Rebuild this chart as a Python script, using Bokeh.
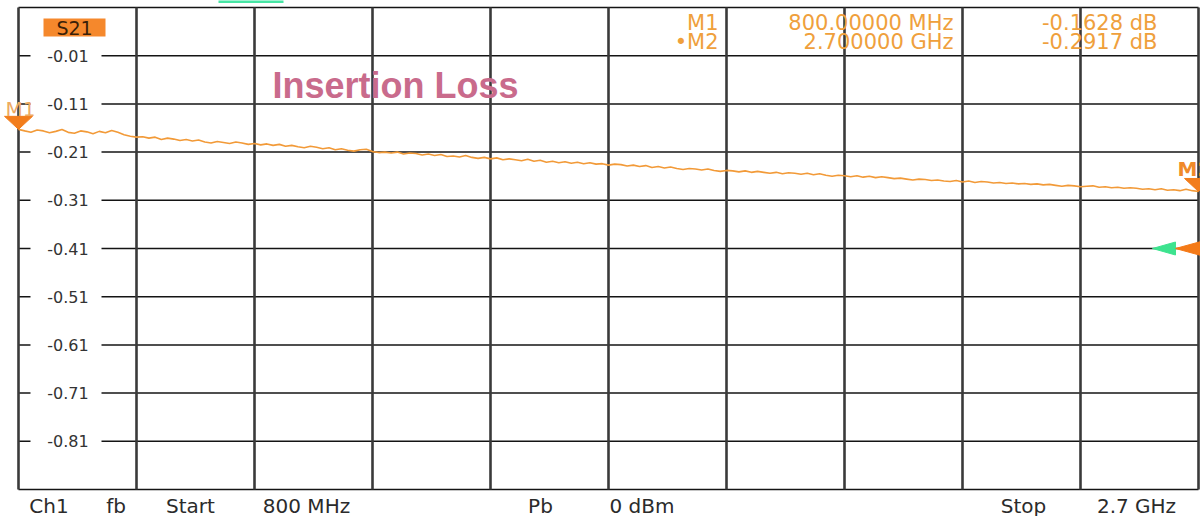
from bokeh.plotting import figure
from bokeh.models import Range1d
from bokeh.core.properties import value
from bokeh.embed import file_html
from bokeh.resources import INLINE

# ---------------- data ----------------
start_mhz = 800
stop_mhz = 2700
freq_mhz = list(range(800, 2701, 10))
s21_db = [
    -0.1628, -0.166, -0.169, -0.164, -0.166, -0.170, -0.167, -0.163, -0.169, -0.171,
    -0.166, -0.168, -0.172, -0.167, -0.170, -0.165, -0.169, -0.174, -0.177, -0.179,
    -0.178, -0.181, -0.179, -0.184, -0.181, -0.183, -0.186, -0.184, -0.187, -0.185,
    -0.189, -0.191, -0.188, -0.190, -0.192, -0.189, -0.191, -0.194, -0.192, -0.195,
    -0.193, -0.196, -0.194, -0.198, -0.196, -0.199, -0.201, -0.198, -0.200, -0.203,
    -0.201, -0.205, -0.203, -0.206, -0.208, -0.205, -0.204, -0.209, -0.211, -0.210,
    -0.212, -0.210, -0.214, -0.212, -0.213, -0.216, -0.214, -0.217, -0.215, -0.219,
    -0.218, -0.220, -0.217, -0.221, -0.223, -0.221, -0.224, -0.222, -0.226, -0.224,
    -0.226, -0.228, -0.225, -0.229, -0.227, -0.231, -0.229, -0.232, -0.230, -0.233,
    -0.231, -0.234, -0.232, -0.235, -0.234, -0.237, -0.235, -0.236, -0.239, -0.237,
    -0.240, -0.238, -0.242, -0.240, -0.243, -0.241, -0.244, -0.246, -0.244, -0.245,
    -0.247, -0.245, -0.248, -0.250, -0.248, -0.249, -0.251, -0.249, -0.252, -0.250,
    -0.252, -0.254, -0.252, -0.255, -0.253, -0.254, -0.256, -0.254, -0.257, -0.255,
    -0.258, -0.260, -0.258, -0.259, -0.261, -0.259, -0.262, -0.260, -0.263, -0.261,
    -0.263, -0.265, -0.264, -0.266, -0.268, -0.266, -0.267, -0.269, -0.268, -0.270,
    -0.271, -0.269, -0.272, -0.270, -0.273, -0.271, -0.272, -0.274, -0.273, -0.275,
    -0.274, -0.276, -0.275, -0.277, -0.276, -0.278, -0.277, -0.279, -0.281, -0.279,
    -0.280, -0.282, -0.281, -0.280, -0.283, -0.282, -0.284, -0.283, -0.285, -0.284,
    -0.285, -0.287, -0.286, -0.288, -0.286, -0.289, -0.288, -0.290, -0.287, -0.290,
    -0.2917,
]
grid_freqs = [800, 990, 1180, 1370, 1560, 1750, 1940, 2130, 2320, 2510, 2700]
grid_db = [0.09, -0.01, -0.11, -0.21, -0.31, -0.41, -0.51, -0.61, -0.71, -0.81, -0.91]
tick_db = [-0.01, -0.11, -0.21, -0.31, -0.41, -0.51, -0.61, -0.71, -0.81]
tick_labels = ["-0.01", "-0.11", "-0.21", "-0.31", "-0.41", "-0.51", "-0.61", "-0.71", "-0.81"]
marker_names = ["M1", "M2"]
marker_freq = [800, 2700]
marker_db = [-0.1628, -0.2917]
readout_names = ["M1", "\u2022M2"]
readout_freq = ["800.00000 MHz", "2.700000 GHz"]
readout_vals = ["-0.1628 dB", "-0.2917 dB"]
ref_level_db = -0.41
trace_name = "S21"
title_text = "Insertion Loss"
footer_texts = ["Ch1", "fb", "Start", "800 MHz", "Pb", "0 dBm", "Stop", "2.7 GHz"]

# ---------------- layout ----------------
W, H = 1200, 516
PX_MHZ = 1180.0 / (stop_mhz - start_mhz)
PX_DB = 482.0
x0 = start_mhz - 18 / PX_MHZ
x1 = x0 + W / PX_MHZ
y1 = grid_db[0] + 7 / PX_DB
y0 = y1 - H / PX_DB


def rx(px):
    # picture pixel x -> MHz
    return x0 + px / PX_MHZ


def ry(py):
    # picture pixel y (from top) -> dB
    return y1 - py / PX_DB


p = figure(width=W, height=H, x_range=Range1d(x0, x1), y_range=Range1d(y0, y1),
           output_backend="svg", toolbar_location=None, min_border=0,
           x_axis_location=None, y_axis_location=None, title=None)
p.grid.visible = False
p.outline_line_color = None
p.background_fill_color = "white"
p.border_fill_color = "white"

SANS = value("DejaVu Sans")

# small tab at top edge
p.quad(left=[rx(218)], right=[rx(283)], top=[ry(-2)], bottom=[ry(2.5)],
       fill_color="#47E6A5", line_color=None)

# grid
p.segment(x0=[start_mhz] * len(grid_db), y0=grid_db, x1=[stop_mhz] * len(grid_db), y1=grid_db,
          line_color="#141414", line_width=1.5)
p.segment(x0=grid_freqs, y0=[grid_db[-1]] * len(grid_freqs), x1=grid_freqs, y1=[grid_db[0]] * len(grid_freqs),
          line_color="#3a3a3a", line_width=2.6)

# tick labels with white backgrounds
p.rect(x=[rx(65.5)] * len(tick_db), y=tick_db, width=71, height=14,
       width_units="screen", height_units="screen", fill_color="white", line_color=None)
p.text(x=[rx(67.5)] * len(tick_db), y=tick_db, text=tick_labels,
       text_font=SANS, text_font_size=value("16px"), text_color="#333333",
       text_align="center", text_baseline="middle")

# S21 box
p.rect(x=[rx(74)], y=[ry(27)], width=62, height=18, width_units="screen", height_units="screen",
       fill_color="#F5882C", line_color=None)
p.text(x=[rx(74)], y=[ry(27.5)], text=[trace_name], text_font=SANS, text_font_size=value("19px"),
       text_color="#3a2008", text_align="center", text_baseline="middle")

# title
p.text(x=[rx(272)], y=[ry(85)], text=[title_text], text_font=value("Liberation Sans"),
       text_font_style="bold", text_font_size=value("36px"), text_color="#C96B8C",
       text_align="left", text_baseline="middle")

# trace
p.line(freq_mhz, s21_db, line_color="#F29A38", line_width=1.6)

# marker triangles (tip at marker value)
tw, th = 28, 13
p.patches(xs=[[f - tw / 2 / PX_MHZ, f + tw / 2 / PX_MHZ, f] for f in marker_freq],
          ys=[[v + th / PX_DB, v + th / PX_DB, v] for v in marker_db],
          fill_color="#F27D1C", line_color="#F27D1C", line_width=1)
# marker labels
p.text(x=[marker_freq[0] + 2 / PX_MHZ], y=[marker_db[0] + 20 / PX_DB], text=[marker_names[0]],
       text_font=SANS, text_font_size=value("20px"), text_color="#EDAA62",
       text_align="center", text_baseline="middle")
p.text(x=[marker_freq[1] - 21 / PX_MHZ], y=[marker_db[1] + 22 / PX_DB], text=[marker_names[1]],
       text_font=SANS, text_font_style="bold", text_font_size=value("20px"), text_color="#F08A2A",
       text_align="left", text_baseline="middle")

# reference level markers at right edge
p.patches(xs=[[stop_mhz - 46 / PX_MHZ, stop_mhz - 23 / PX_MHZ, stop_mhz - 23 / PX_MHZ],
              [stop_mhz - 23 / PX_MHZ, stop_mhz + 8 / PX_MHZ, stop_mhz + 8 / PX_MHZ]],
          ys=[[ref_level_db, ref_level_db + 6.5 / PX_DB, ref_level_db - 6.5 / PX_DB],
              [ref_level_db, ref_level_db + 8.5 / PX_DB, ref_level_db - 8.5 / PX_DB]],
          fill_color=["#3DE38F", "#F47A18"], line_color=["#3DE38F", "#F47A18"], line_width=1)

# marker readout
rows_y = [ry(22), ry(41)]
RD = dict(text_font=SANS, text_font_size=value("21px"), text_color="#EFA03C",
          text_align="right", text_baseline="middle")
p.text(x=[rx(718)] * 2, y=rows_y, text=readout_names, **RD)
p.text(x=[rx(953)] * 2, y=rows_y, text=readout_freq, **RD)
p.text(x=[rx(1157)] * 2, y=rows_y, text=readout_vals, **RD)

# footer
footer_x = [48.5, 115.5, 190, 306, 540, 641.5, 1023, 1136]
p.text(x=[rx(v) for v in footer_x], y=[ry(505)] * len(footer_texts), text=footer_texts,
       text_font=SANS, text_font_size=value("20px"), text_color="#2b2b2b",
       text_align="center", text_baseline="middle")

open("out.html", "w").write(file_html(p, INLINE))
